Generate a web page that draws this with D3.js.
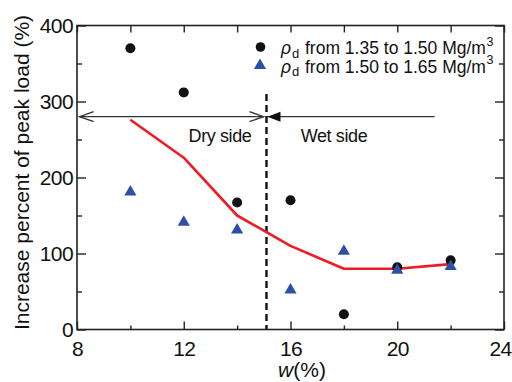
<!DOCTYPE html>
<html>
<head>
<meta charset="utf-8">
<script src="https://cdn.jsdelivr.net/npm/d3@7"></script>
<style>
  html, body { margin: 0; padding: 0; background: #fff; }
  svg { display: block; font-family: "Liberation Sans", Arial, sans-serif; }
</style>
</head>
<body>
<svg id="chart" width="512" height="382"></svg>
<script>
// Water content w (%)
const waterContent = [10, 12, 14, 16, 18, 20, 22];
// Increase percent of peak load (%) for two dry-density ranges
const lowDensity = [370, 312, 167, 170, 20, 82, 91];
const highDensity = [181, 141, 131, 52, 103, 78, 83];
// Trend through the data
const trendLine = [276, 226, 150, 110, 80, 80, 86];

const xTicks = [8, 12, 16, 20, 24];
const xMinorTicks = [10, 14, 18, 22];
const yTicks = [0, 100, 200, 300, 400];
const yMinorTicks = [50, 150, 250, 350];

const optimumW = 15.1;
const arrowLevel = 280;
const dryStart = 8.1;
const wetEnd = 21.4;

const svg = d3.select("#chart");
const plotLeft = 77, plotRight = 504, plotTop = 25.5, plotBottom = 329.5;

const x = d3.scaleLinear().domain([8, 24]).range([plotLeft, plotRight]);
const y = d3.scaleLinear().domain([0, 400]).range([plotBottom, plotTop]);

const axisColor = "#222";

// Frame
svg.append("rect")
  .attr("x", plotLeft).attr("y", plotTop)
  .attr("width", plotRight - plotLeft).attr("height", plotBottom - plotTop)
  .attr("fill", "none").attr("stroke", axisColor).attr("stroke-width", 1.6);

// Bottom axis with inward ticks
const gx = svg.append("g").attr("transform", `translate(0,${plotBottom})`)
  .call(d3.axisBottom(x).tickValues(xTicks).tickSize(-8).tickPadding(12).tickFormat(d3.format("d")));
gx.append("g").call(d3.axisBottom(x).tickValues(xMinorTicks).tickSize(-4).tickFormat(""));
// The last label sits just inside the page edge
gx.selectAll(".tick text").filter(d => d === 24).attr("dx", -4);
// Top axis (all ticks same length)
svg.append("g").attr("transform", `translate(0,${plotTop})`)
  .call(d3.axisTop(x).tickValues(xTicks.concat(xMinorTicks)).tickSize(-7).tickFormat(""));
// Left axis
const gy = svg.append("g").attr("transform", `translate(${plotLeft},0)`)
  .call(d3.axisLeft(y).tickValues(yTicks).tickSize(-9).tickPadding(4).tickFormat(d3.format("d")));
gy.append("g").call(d3.axisLeft(y).tickValues(yMinorTicks).tickSize(-5).tickFormat(""));
// Right axis
const gyr = svg.append("g").attr("transform", `translate(${plotRight},0)`)
  .call(d3.axisRight(y).tickValues(yTicks).tickSize(-9).tickFormat(""));
gyr.append("g").call(d3.axisRight(y).tickValues(yMinorTicks).tickSize(-5).tickFormat(""));

svg.selectAll(".domain").remove();
svg.selectAll(".tick line").attr("stroke", axisColor).attr("stroke-width", 1.4);
svg.selectAll(".tick text")
  .attr("fill", "#111").style("font-size", "21px").style("letter-spacing", "-0.6px");

// Axis titles
svg.append("text")
  .attr("transform", `translate(28.5,172.5) rotate(-90)`)
  .attr("text-anchor", "middle")
  .style("font-size", "21px").attr("fill", "#111")
  .text("Increase percent of peak load (%)");

const xl = svg.append("text")
  .attr("x", 302).attr("y", 377)
  .attr("text-anchor", "middle")
  .style("font-size", "21px").attr("fill", "#111");
xl.append("tspan").style("font-style", "italic").text("w");
xl.append("tspan").text("(%)");

// Dry / wet side boundary
svg.append("line")
  .attr("x1", x(optimumW)).attr("x2", x(optimumW))
  .attr("y1", 94).attr("y2", plotBottom)
  .attr("stroke", "#111").attr("stroke-width", 2.4)
  .attr("stroke-dasharray", "7,4");

// Double-headed dry-side arrow with open heads
const ay = y(arrowLevel);
svg.append("line")
  .attr("x1", x(dryStart)).attr("x2", x(optimumW) - 3)
  .attr("y1", ay).attr("y2", ay)
  .attr("stroke", "#333").attr("stroke-width", 1.3);
const openHead = (tipX, dir) => svg.append("path")
  .attr("d", `M${tipX - dir * 14},${ay - 5} L${tipX},${ay} L${tipX - dir * 14},${ay + 5}`)
  .attr("fill", "none").attr("stroke", "#333").attr("stroke-width", 1.4);
openHead(x(dryStart), -1);
openHead(x(optimumW) - 3, 1);

// Wet-side arrow with a filled head at the boundary
svg.append("line")
  .attr("x1", x(optimumW)).attr("x2", x(wetEnd))
  .attr("y1", ay).attr("y2", ay)
  .attr("stroke", "#333").attr("stroke-width", 1.3);
svg.append("path")
  .attr("d", `M${x(optimumW) + 1},${ay} L${x(optimumW) + 14},${ay - 5} L${x(optimumW) + 14},${ay + 5} Z`)
  .attr("fill", "#111");

svg.append("text").attr("x", 220).attr("y", 141.5).attr("text-anchor", "middle")
  .style("font-size", "18px").style("letter-spacing", "-0.4px").attr("fill", "#111").text("Dry side");
svg.append("text").attr("x", 334).attr("y", 141.5).attr("text-anchor", "middle")
  .style("font-size", "18px").style("letter-spacing", "-0.4px").attr("fill", "#111").text("Wet side");

// Trend line
const line = d3.line().x((d, i) => x(waterContent[i])).y(d => y(d));
svg.append("path").datum(trendLine)
  .attr("d", line)
  .attr("fill", "none").attr("stroke", "#ec1c24").attr("stroke-width", 2.6)
  .attr("stroke-linejoin", "round");

// Markers
const blue = "#2f4fa6";
const tri = d3.symbol().type(d3.symbolTriangle).size(64);
svg.append("g").selectAll("circle").data(lowDensity).join("circle")
  .attr("cx", (d, i) => x(waterContent[i])).attr("cy", d => y(d))
  .attr("r", 5).attr("fill", "#111");
svg.append("g").selectAll("path").data(highDensity).join("path")
  .attr("d", tri)
  .attr("transform", (d, i) => `translate(${x(waterContent[i])},${y(d)})`)
  .attr("fill", blue);

// Legend: symbol, italic rho with subscript d, range text, superscript 3
const legendItems = [
  { label: "from 1.35 to 1.50 Mg/m", marker: "circle" },
  { label: "from 1.50 to 1.65 Mg/m", marker: "triangle" }
];
const lg = svg.append("g").attr("fill", "#111");
legendItems.forEach((item, i) => {
  const base = 54 + i * 18.5;
  if (item.marker === "circle") {
    lg.append("circle").attr("cx", 260.5).attr("cy", base - 7).attr("r", 4.8);
  } else {
    lg.append("path").attr("d", tri).attr("transform", `translate(260,${base - 7})`).attr("fill", blue);
  }
  lg.append("text").attr("x", 281).attr("y", base)
    .style("font-size", "17.5px").style("font-style", "italic").text("ρ");
  lg.append("text").attr("x", 292).attr("y", base + 3.5)
    .style("font-size", "13px").text("d");
  const main = lg.append("text").attr("x", 305).attr("y", base)
    .style("font-size", "17.5px").text(item.label);
  const w = main.node().getComputedTextLength();
  lg.append("text").attr("x", 305 + w + 0.5).attr("y", base - 8.5)
    .style("font-size", "12.5px").text("3");
});
</script>
</body>
</html>
